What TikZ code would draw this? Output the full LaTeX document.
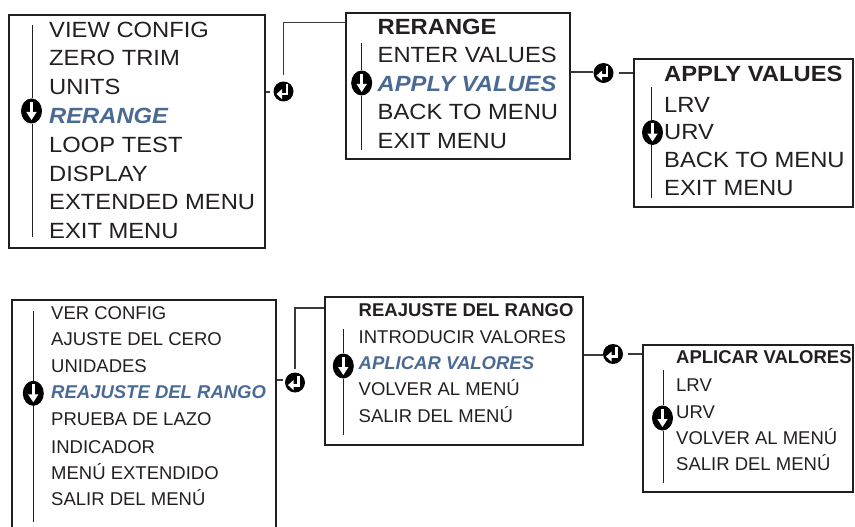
\documentclass[tikz,border=0pt]{standalone}
\usepackage{fontspec}
\setmainfont{Liberation Sans}
\newfontfamily\topf[FakeStretch=1.08]{Liberation Sans}
\newfontfamily\botf{Liberation Sans}
\usetikzlibrary{shapes.geometric}
\definecolor{ink}{HTML}{231F20}
\definecolor{hblue}{RGB}{74,106,148}
\definecolor{lnk}{HTML}{3A3A3A}
\tikzset{
  x=1pt, y=-1pt,
  menubox/.style={draw=ink, line width=1.8pt, inner sep=0pt, minimum width=#1},
  tt/.style={anchor=west, inner sep=0pt, text height=15.75pt, text depth=0pt, text=ink, font=\topf\fontsize{22}{26}\selectfont},
  tth/.style={tt, font=\topf\fontsize{22}{26}\selectfont\bfseries},
  tti/.style={tt, text=hblue, font=\topf\fontsize{22}{26}\selectfont\bfseries\itshape},
  bt/.style={anchor=west, inner sep=0pt, text height=13.25pt, text depth=0pt, text=ink, font=\botf\fontsize{18.5}{22}\selectfont},
  bth/.style={bt, font=\botf\fontsize{18.5}{22}\selectfont\bfseries},
  bti/.style={bt, text=hblue, font=\botf\fontsize{18.5}{22}\selectfont\bfseries\itshape},
  dico/.style={ellipse, fill=black, inner sep=0pt, minimum width=21pt, minimum height=25pt},
  rico/.style={circle, fill=black, inner sep=0pt, minimum size=20pt},
  conn/.style={draw=lnk, line width=1.2pt},
  scroll/.style={draw=ink, line width=1.5pt},
}
\newcommand\dicon[3]{%
  \node[dico] (#1) at (#2,#3) {};
  \fill[white] ([shift={(-1.6,-9)}]#1.center) rectangle ([shift={(1.6,2)}]#1.center);
  \fill[white] ([shift={(-5.2,1)}]#1.center) -- ([shift={(5.2,1)}]#1.center) -- ([shift={(0,9)}]#1.center) -- cycle;}
\newcommand\ricon[3]{%
  \node[rico] (#1) at (#2,#3) {};
  \draw[white, line width=2.8pt] ([shift={(3.4,-7)}]#1.center) -- ([shift={(3.4,2.6)}]#1.center) -- ([shift={(-2,2.6)}]#1.center);
  \fill[white] ([shift={(-7,2.6)}]#1.center) -- ([shift={(-1.5,-2.4)}]#1.center) -- ([shift={(-1.5,7.6)}]#1.center) -- cycle;}
\begin{document}
\begin{tikzpicture}
\useasboundingbox (0,0) rectangle (855,527);
\fill[white] (0,0) rectangle (855,527);

% ---------- boxes ----------
\node[menubox=255.8pt, minimum height=233pt] (b1) at (137.1,131.5) {};
\node[menubox=224pt, minimum height=146.6pt] (b2) at (458,86) {};
\node[menubox=219pt, minimum height=147.4pt] (b3) at (743.5,133) {};
\node[menubox=263.7pt, minimum height=240pt] (b4) at (144.15,420) {};
\node[menubox=258.3pt, minimum height=148.3pt] (b5) at (454.15,370.85) {};
\node[menubox=209.7pt, minimum height=147.3pt] (b6) at (748.15,418.65) {};

% ---------- top texts ----------
\node[tt] (a1) at (49,29.2) {VIEW CONFIG};
\node[tt] (a2) at (49,58) {ZERO TRIM};
\node[tt] (a3) at (49,86.8) {UNITS};
\node[tti] (a4) at (49,115.6) {RERANGE};
\node[tt] (a5) at (49,144.4) {LOOP TEST};
\node[tt] (a6) at (49,173.2) {DISPLAY};
\node[tt] (a7) at (49,202) {EXTENDED MENU};
\node[tt] (a8) at (49,230.8) {EXIT MENU};

\node[tth] (c1) at (377.5,26.7) {RERANGE};
\node[tt] (c2) at (377.5,55) {ENTER VALUES};
\node[tti] (c3) at (377.5,83.3) {APPLY VALUES};
\node[tt] (c4) at (377.5,112) {BACK TO MENU};
\node[tt] (c5) at (377.5,140.3) {EXIT MENU};

\node[tth] (e1) at (664,73.3) {APPLY VALUES};
\node[tt] (e2) at (664,104.7) {LRV};
\node[tt] (e3) at (664,131.7) {URV};
\node[tt] (e4) at (664,160) {BACK TO MENU};
\node[tt] (e5) at (664,188) {EXIT MENU};

% ---------- bottom texts ----------
\node[bt] (f1) at (51,312.5) {VER CONFIG};
\node[bt] (f2) at (51,339.3) {AJUSTE DEL CERO};
\node[bt] (f3) at (51,366) {UNIDADES};
\node[bti] (f4) at (51,392) {REAJUSTE DEL RANGO};
\node[bt] (f5) at (51,419.3) {PRUEBA DE LAZO};
\node[bt] (f6) at (51,446.7) {INDICADOR};
\node[bt] (f7) at (51,473.3) {MENÚ EXTENDIDO};
\node[bt] (f8) at (51,498.8) {SALIR DEL MENÚ};

\node[bth] (g1) at (358.5,310) {REAJUSTE DEL RANGO};
\node[bt] (g2) at (358.5,336.7) {INTRODUCIR VALORES};
\node[bti] (g3) at (358.5,362.5) {APLICAR VALORES};
\node[bt] (g4) at (358.5,388.8) {VOLVER AL MENÚ};
\node[bt] (g5) at (358.5,415.5) {SALIR DEL MENÚ};

\node[bth] (h1) at (676,356.7) {APLICAR VALORES};
\node[bt] (h2) at (676,385) {LRV};
\node[bt] (h3) at (676,411.7) {URV};
\node[bt] (h4) at (676,438) {VOLVER AL MENÚ};
\node[bt] (h5) at (676,463.8) {SALIR DEL MENÚ};

% ---------- scroll icons and lines ----------
\dicon{d1}{31.5}{111}
\dicon{d2}{361.7}{83}
\dicon{d3}{652.5}{132.5}
\dicon{d4}{33.3}{393.3}
\dicon{d5}{343.3}{366}
\dicon{d6}{662.5}{418}

\coordinate (s1t) at (32.3,25);   \coordinate (s1b) at (32.3,236.7);
\coordinate (s2t) at (361.7,43.3); \coordinate (s2b) at (361.7,150);
\coordinate (s3t) at (651.7,86.7); \coordinate (s3b) at (651.7,198);
\coordinate (s4t) at (33.3,310.7); \coordinate (s4b) at (33.3,521.7);
\coordinate (s5t) at (343.3,329.3); \coordinate (s5b) at (343.3,435);
\coordinate (s6t) at (663.3,370); \coordinate (s6b) at (663.3,482.7);
\foreach \i in {1,...,6}{
  \draw[scroll] (s\i t) -- (s\i t |- d\i.north);
  \draw[scroll] (s\i b |- d\i.south) -- (s\i b);
}

% ---------- return icons and connectors ----------
\ricon{r1}{283.5}{91.5}
\ricon{r2}{603.5}{73}
\ricon{r3}{295}{382.5}
\ricon{r4}{613}{354}

\coordinate (k1) at (283.5,22.7);
\coordinate (k3) at (295,308);

\draw[conn] (b1.east |- 0,92) -- ([xshift=-3pt]r1.west |- 0,92);
\draw[conn] ([yshift=6pt]r1.north) -- (k1) -- (k1 -| b2.west);
\draw[conn] (b2.east |- 0,72) -- (r2.west |- 0,72);
\draw[conn] ([xshift=5pt]r2.east) -- (r2 -| b3.west);

\draw[conn] (b4.east |- 0,380) -- ([xshift=-2pt]r3.west |- 0,380);
\draw[conn] ([yshift=3pt]r3.north) -- (k3) -- (k3 -| b5.west);
\draw[conn] (b5.east |- 0,355) -- (r4.west |- 0,355);
\draw[conn] ([xshift=5pt]r4.east) -- (r4 -| b6.west);
\end{tikzpicture}
\end{document}
